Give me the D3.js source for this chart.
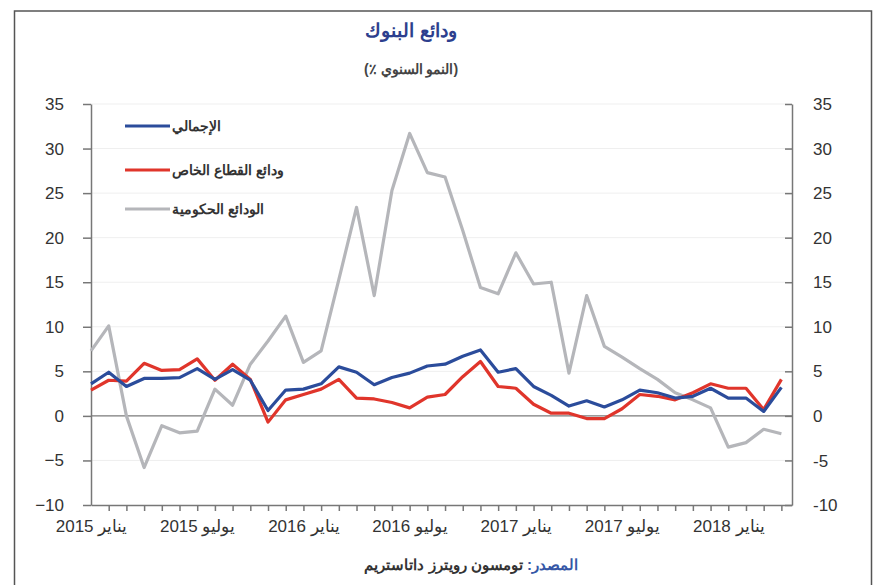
<!DOCTYPE html>
<html>
<head>
<meta charset="utf-8">
<script src="https://cdn.jsdelivr.net/npm/d3@7"></script>
<style>
  body { margin: 0; background: #fff; }
  svg { display: block; font-family: "Liberation Sans", Arial, sans-serif; }
</style>
</head>
<body>
<div id="chart"></div>
<script>
// monthly points, Jan 2015 .. Apr 2018
var totalDep = [3.6, 4.9, 3.3, 4.2, 4.2, 4.3, 5.3, 4.1, 5.2, 4.0,
                0.6, 2.9, 3.0, 3.6, 5.5, 4.9, 3.5, 4.3, 4.8, 5.6,
                5.8, 6.7, 7.4, 4.9, 5.3, 3.3, 2.3, 1.1, 1.7, 1.0,
                1.8, 2.9, 2.6, 2.0, 2.2, 3.1, 2.0, 2.0, 0.5, 3.2];
var privateDep = [2.9, 4.0, 3.9, 5.9, 5.1, 5.2, 6.4, 4.0, 5.8, 4.1,
                  -0.7, 1.8, 2.4, 3.0, 4.1, 2.0, 1.9, 1.5, 0.9, 2.1,
                  2.4, 4.4, 6.1, 3.3, 3.1, 1.3, 0.3, 0.3, -0.3, -0.3,
                  0.8, 2.4, 2.2, 1.8, 2.6, 3.6, 3.1, 3.1, 0.7, 4.1];
var govDep = [7.3, 10.1, 0.0, -5.8, -1.1, -1.9, -1.7, 3.0, 1.2, 5.8,
              8.4, 11.2, 6.0, 7.3, 15.3, 23.4, 13.5, 25.3, 31.7, 27.3,
              26.8, 20.8, 14.4, 13.7, 18.3, 14.8, 15.0, 4.8, 13.5, 7.8,
              6.6, 5.3, 4.1, 2.6, 1.8, 0.9, -3.5, -3.0, -1.5, -2.0];

var tickIdx = [0, 6, 12, 18, 24, 30, 36];
var tickLabels = ["يناير 2015", "يوليو 2015", "يناير 2016", "يوليو 2016",
                  "يناير 2017", "يوليو 2017", "يناير 2018"];
var yTicks = [-10, -5, 0, 5, 10, 15, 20, 25, 30, 35];

var seriesNames = ["الإجمالي", "ودائع القطاع الخاص", "الودائع الحكومية"];
var seriesColors = ["#2b4c9b", "#e0352b", "#b5b6ba"];
var seriesData = [govDep, privateDep, totalDep];  // draw order

function drawChart() {
    var width = 885, height = 585;
    var svg = d3.select("#chart").append("svg")
        .attr("width", width)
        .attr("height", height);

    // frame
    svg.append("path")
        .attr("d", "M14.5,600 V11 H871.5 V600")
        .attr("fill", "none")
        .attr("stroke", "#555")
        .attr("stroke-width", 1.5);

    var plotLeft = 91, plotRight = 792, plotTop = 104, plotBottom = 505;

    var x = d3.scaleLinear().domain([0, 39.6]).range([plotLeft, plotRight]);
    var y = d3.scaleLinear().domain([-10, 35]).range([plotBottom, plotTop]);

    // title
    svg.append("text")
        .attr("x", 411).attr("y", 37)
        .attr("text-anchor", "middle")
        .attr("fill", "#2d3f8e")
        .attr("font-size", "19px")
        .attr("font-weight", "bold")
        .text("ودائع البنوك");

    svg.append("text")
        .attr("x", 411).attr("y", 74)
        .attr("text-anchor", "middle")
        .attr("fill", "#444")
        .attr("font-size", "14px")
        .attr("font-weight", "bold")
        .text("(٪ النمو السنوي)");

    // faint grid lines
    svg.append("g")
        .selectAll("line")
        .data(yTicks.filter(d => d != 0 && d != -10))
        .enter()
        .append("line")
        .attr("x1", plotLeft).attr("x2", plotRight)
        .attr("y1", d => y(d)).attr("y2", d => y(d))
        .attr("stroke", "#efefef");

    // zero line
    svg.append("line")
        .attr("x1", plotLeft).attr("x2", plotRight)
        .attr("y1", y(0)).attr("y2", y(0))
        .attr("stroke", "#7a7a7a")
        .attr("stroke-width", 1.2);

    // left axis
    var yAxisL = svg.append("g")
        .attr("transform", `translate(${plotLeft},0)`)
        .call(d3.axisLeft(y).tickValues(yTicks).tickSize(8).tickSizeOuter(0));

    // right axis (ticks point inside)
    var yAxisR = svg.append("g")
        .attr("transform", `translate(${plotRight},0)`)
        .call(d3.axisLeft(y).tickValues(yTicks).tickSize(7).tickSizeOuter(0).tickFormat(""));

    svg.append("g")
        .selectAll("text")
        .data(yTicks)
        .enter()
        .append("text")
        .attr("x", 813)
        .attr("y", d => y(d))
        .attr("dy", "0.36em")
        .attr("fill", "#333")
        .attr("font-size", "17px")
        .text(d => d);

    // bottom axis with monthly ticks
    var xAxis = svg.append("g")
        .attr("transform", `translate(0,${plotBottom})`)
        .call(d3.axisBottom(x).tickValues(d3.range(1, 40)).tickSize(6).tickSizeOuter(0).tickFormat(""));

    var xLab = svg.append("g")
        .attr("transform", `translate(0,${plotBottom})`)
        .call(d3.axisBottom(x).tickValues(tickIdx).tickSize(0).tickPadding(15)
            .tickFormat((d, i) => tickLabels[i]));
    xLab.select(".domain").remove();
    xLab.selectAll("text").attr("font-size", "17px").attr("fill", "#333");

    [yAxisL, yAxisR, xAxis].forEach(function (g) {
        g.selectAll(".domain, line").attr("stroke", "#777").attr("stroke-width", 1.5);
    });
    yAxisL.selectAll("text").attr("font-size", "17px").attr("fill", "#333")
        .attr("text-anchor", "end").attr("x", -27);

    // lines
    var line = d3.line()
        .x((d, i) => x(i))
        .y(d => y(d));

    var lineColors = [seriesColors[2], seriesColors[1], seriesColors[0]];
    svg.append("g")
        .selectAll("path")
        .data(seriesData)
        .enter()
        .append("path")
        .attr("d", d => line(d))
        .attr("fill", "none")
        .attr("stroke", (d, i) => lineColors[i])
        .attr("stroke-width", 3.2)
        .attr("stroke-linejoin", "round");

    // legend
    var legend = svg.append("g");
    var legY = [126, 170, 209];
    seriesNames.forEach(function (name, i) {
        legend.append("line")
            .attr("x1", 125).attr("x2", 170)
            .attr("y1", legY[i]).attr("y2", legY[i])
            .attr("stroke", seriesColors[i])
            .attr("stroke-width", 3);
        legend.append("text")
            .attr("x", 172)
            .attr("y", legY[i] + 5)
            .attr("fill", "#333")
            .attr("font-size", "14px")
            .attr("font-weight", "bold")
            .text(name);
    });

    // source
    var src = svg.append("text")
        .attr("x", 578).attr("y", 570)
        .attr("text-anchor", "end")
        .attr("font-size", "15px")
        .attr("font-weight", "bold");
    src.append("tspan").attr("fill", "#3557a6").text("المصدر: ");
    src.append("tspan").attr("fill", "#333").text("تومسون رويترز داتاستريم");
}

drawChart();
</script>
</body>
</html>
